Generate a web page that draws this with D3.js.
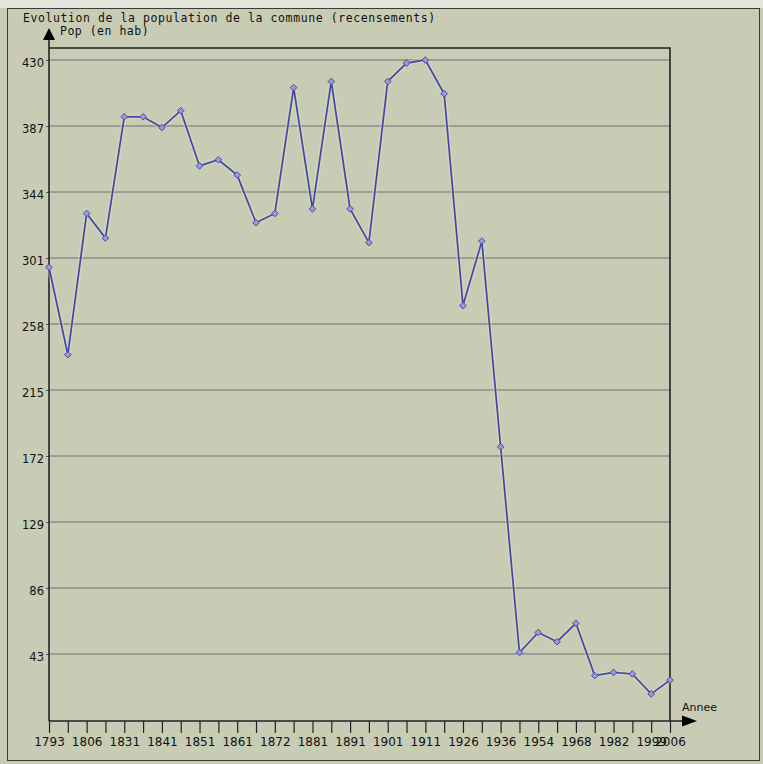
<!DOCTYPE html>
<html>
<head>
<meta charset="utf-8">
<script src="https://cdn.jsdelivr.net/npm/d3@7/dist/d3.min.js"></script>
<style>
  html, body { margin: 0; padding: 0; background: #c8ccb4; }
  svg { display: block; }
</style>
</head>
<body>
<svg id="chart" width="763" height="764"></svg>
<script>
// ---- Data ----
const years = ["1793","1800","1806","1821","1831","1836","1841","1846","1851","1856",
               "1861","1866","1872","1876","1881","1886","1891","1896","1901","1906",
               "1911","1921","1926","1931","1936","1946","1954","1962","1968","1975",
               "1982","1990","1999","2006"];
const population = [295, 238, 330, 314, 393, 393, 386, 397, 361, 365,
                    355, 324, 330, 412, 333, 416, 333, 311, 416, 428,
                    430, 408, 270, 312, 178, 44, 57, 51, 63, 29,
                    31, 30, 17, 26];
const yTickValues = [43, 86, 129, 172, 215, 258, 301, 344, 387, 430];
const titleText = "Evolution de la population de la commune (recensements)";
const yAxisTitle = "Pop (en hab)";
const xAxisTitle = "Annee";

(function () {
// ---- Layout ----
const W = 763, H = 764;
const pLeft = 49, pRight = 670, pTop = 48, pBottom = 721;
const bg = "#c8ccb4";

const svg = d3.select("#chart");

// top light strip and outer box
svg.append("rect").attr("x", 0).attr("y", 0).attr("width", W).attr("height", 8).attr("fill", "#e4e6dc");
svg.append("rect").attr("x", 7.5).attr("y", 8.5).attr("width", 752).attr("height", 752)
  .attr("fill", bg).attr("stroke", "#3a3a3a").attr("stroke-width", 1);

// scales
const x = d3.scalePoint().domain(years).range([pLeft, pRight]);
const y = d3.scaleLinear().domain([0, 430]).range([pBottom - 1, 60]);

// gridlines
svg.append("g").selectAll("line").data(yTickValues).join("line")
  .attr("x1", pLeft).attr("x2", pRight)
  .attr("y1", d => y(d)).attr("y2", d => y(d))
  .attr("stroke", "#8c8e8a").attr("stroke-width", 1.5);

// plot frame (top and right)
svg.append("path")
  .attr("d", `M${pLeft},${pTop}H${pRight}V${pBottom}`)
  .attr("fill", "none").attr("stroke", "#222").attr("stroke-width", 1.6);

// Y axis
const yAxis = d3.axisLeft(y).tickValues(yTickValues).tickSize(3).tickPadding(2);
const gy = svg.append("g").attr("transform", `translate(${pLeft},0)`).call(yAxis);
gy.select(".domain").remove();
gy.selectAll(".tick line").attr("stroke", "#555");
gy.selectAll(".tick text")
  .attr("font-family", "DejaVu Sans, Verdana, sans-serif")
  .attr("font-size", "11.5px").attr("fill", "#111").attr("dy", "0.55em");

// X axis
const xAxis = d3.axisBottom(x).tickSize(12).tickPadding(4)
  .tickFormat((d, i) => (i % 2 === 0 || i === years.length - 1) ? d : "");
const gx = svg.append("g").attr("transform", `translate(0,${pBottom})`).call(xAxis);
gx.select(".domain").remove();
gx.selectAll(".tick line").attr("stroke", "#222").attr("stroke-width", 1.2);
gx.selectAll(".tick text")
  .attr("font-family", "DejaVu Sans, Verdana, sans-serif")
  .attr("font-size", "12px").attr("fill", "#111");

// axis lines
svg.append("line").attr("x1", pLeft).attr("x2", pLeft).attr("y1", 38).attr("y2", pBottom)
  .attr("stroke", "#222").attr("stroke-width", 1.6);
svg.append("line").attr("x1", pLeft).attr("x2", 684).attr("y1", pBottom).attr("y2", pBottom)
  .attr("stroke", "#222").attr("stroke-width", 1.6);

// arrows
svg.append("path").attr("d", `M${pLeft},28 L${pLeft + 6},40 L${pLeft - 6},40 Z`).attr("fill", "#000");
svg.append("path").attr("d", `M682,${pBottom - 5.5} L697,${pBottom} L682,${pBottom + 5.5} Z`).attr("fill", "#000");

// titles
const mono = "DejaVu Sans Mono, Liberation Mono, monospace";
svg.append("text").attr("x", 23).attr("y", 22)
  .attr("font-family", mono).attr("font-size", "11.5px").attr("letter-spacing", "0.58px")
  .attr("fill", "#111").text(titleText);
svg.append("text").attr("x", 60).attr("y", 34.5)
  .attr("font-family", mono).attr("font-size", "11.5px").attr("letter-spacing", "0.5px")
  .attr("fill", "#111").text(yAxisTitle);
svg.append("text").attr("x", 682).attr("y", 711)
  .attr("font-family", "DejaVu Sans, Verdana, sans-serif").attr("font-size", "11px")
  .attr("fill", "#111").text(xAxisTitle);

// line
const line = d3.line().x((d, i) => x(years[i])).y(d => y(d));
svg.append("path").datum(population)
  .attr("d", line).attr("fill", "none")
  .attr("stroke", "#dfe6b0").attr("stroke-width", 5).attr("stroke-opacity", 0.35);
svg.append("path").datum(population)
  .attr("d", line).attr("fill", "none")
  .attr("stroke", "#4444b2").attr("stroke-width", 1.7);

// diamond markers
const diamond = d3.symbol().type(d3.symbolDiamond2 || d3.symbolDiamond).size(28);
svg.append("g").selectAll("path").data(population).join("path")
  .attr("d", diamond)
  .attr("transform", (d, i) => `translate(${x(years[i])},${y(d)})`)
  .attr("fill", "#9a9ad8").attr("stroke", "#4a4aa8").attr("stroke-width", 1);
})();
</script>
</body>
</html>
